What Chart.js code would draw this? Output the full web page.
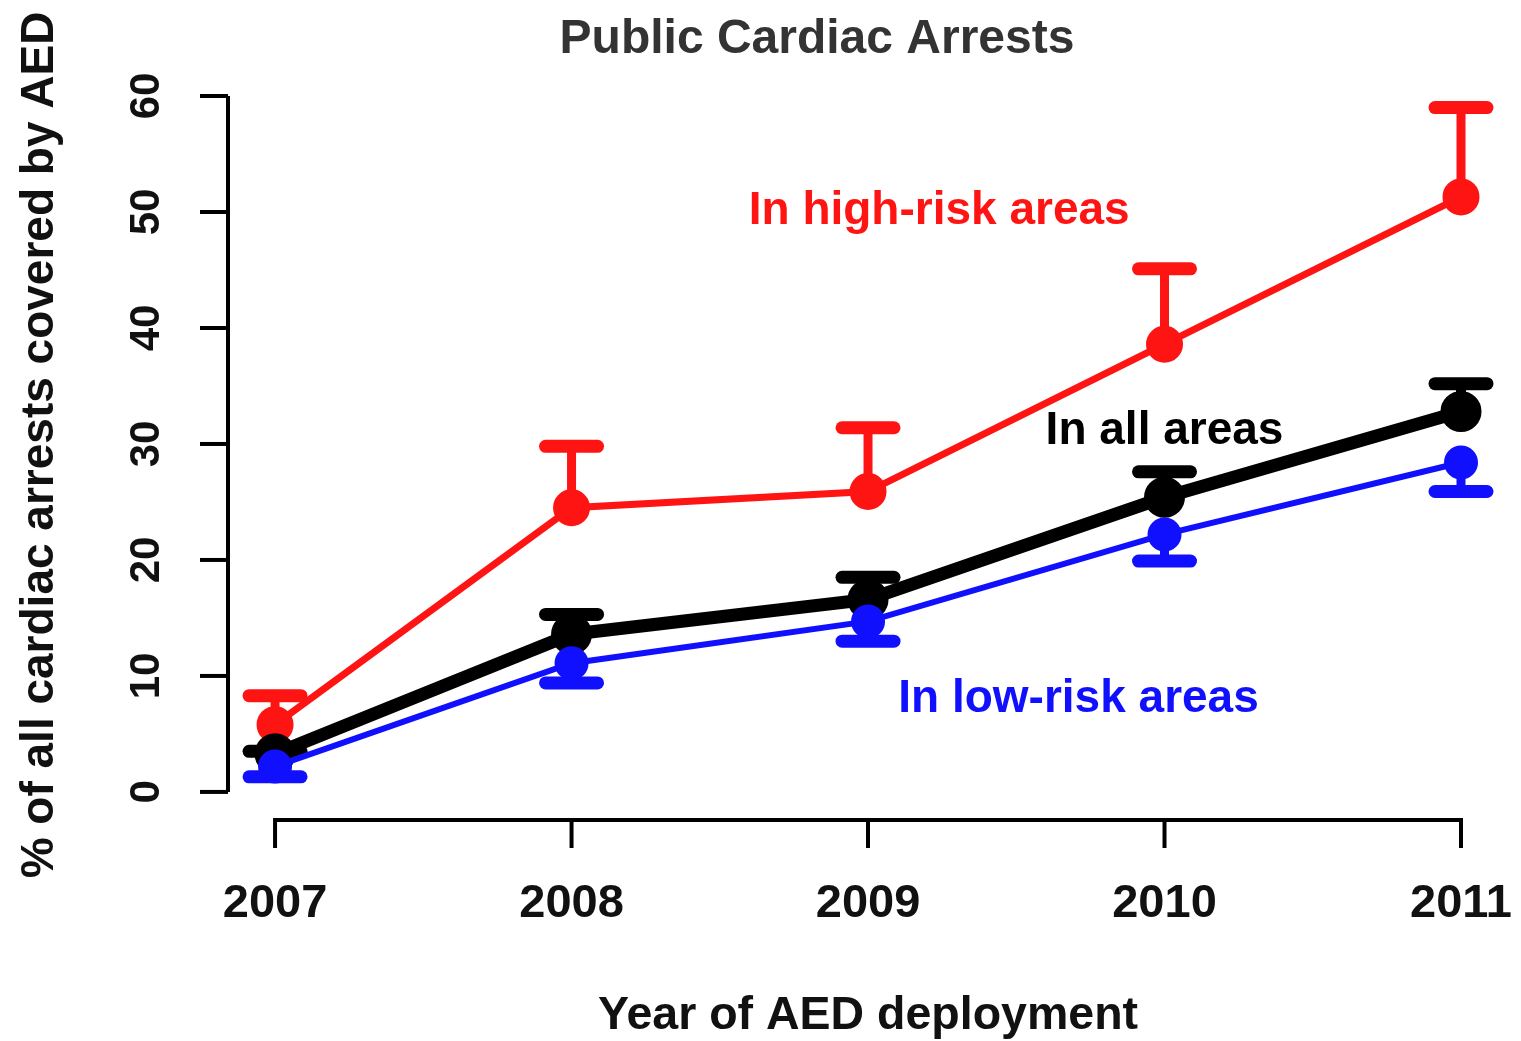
<!DOCTYPE html>
<html>
<head>
<meta charset="utf-8">
<script src="https://cdn.jsdelivr.net/npm/chart.js@4/dist/chart.umd.min.js"></script>
<style>
  body { margin: 0; background: #fff; }
  #wrap { width: 1521px; height: 1041px; }
</style>
</head>
<body>
<div id="wrap"><canvas id="aedChart" width="1521" height="1041"></canvas></div>
<script>
const years = [2007, 2008, 2009, 2010, 2011];
const yTicks = [0, 10, 20, 30, 40, 50, 60];

// % of cardiac arrests covered
const highRisk = [5.8, 24.5, 25.9, 38.6, 51.3];
const highRiskUpper = [8.3, 29.8, 31.4, 45.1, 59.0];
const allAreas = [3.3, 13.6, 16.6, 25.4, 32.8];
const allAreasUpper = [3.5, 15.3, 18.5, 27.6, 35.2];
const lowRisk = [2.2, 11.1, 14.7, 22.2, 28.4];
const lowRiskLower = [1.3, 9.4, 13.0, 19.9, 25.9];

const FONT = "'Liberation Sans', Arial, sans-serif";
const RED = '#ff1414', BLACK = '#000000', BLUE = '#1010ff';

// label anchors in data units (year, %)
const seriesLabels = [
    { text: 'In high-risk areas', x: 2009.24, y: 50.1, color: RED },
    { text: 'In all areas', x: 2010.0, y: 31.1, color: BLACK },
    { text: 'In low-risk areas', x: 2009.71, y: 8.0, color: BLUE },
];

const errBars = [
    { ends: highRiskUpper, vWidth: 9 },
    { ends: allAreasUpper, vWidth: 10 },
    { ends: lowRiskLower, vWidth: 9 },
];

const errorBarPlugin = {
    id: 'errorBars',
    afterDatasetDraw(chart, args) {
        const eb = errBars[args.index];
        if (!eb) return;
        const ds = chart.data.datasets[args.index];
        const { x, y } = chart.scales;
        const ctx = chart.ctx;
        ctx.save();
        ctx.strokeStyle = ds.borderColor;
        ctx.lineCap = 'round';
        ds.data.forEach((pt, i) => {
            const px = x.getPixelForValue(pt.x);
            const py = y.getPixelForValue(pt.y);
            const pe = y.getPixelForValue(eb.ends[i]);
            ctx.lineWidth = eb.vWidth;
            ctx.beginPath();
            ctx.moveTo(px, py);
            ctx.lineTo(px, pe);
            ctx.stroke();
            ctx.lineWidth = 13;
            ctx.beginPath();
            ctx.moveTo(px - 26, pe);
            ctx.lineTo(px + 26, pe);
            ctx.stroke();
        });
        ctx.restore();
    }
};

const axesPlugin = {
    id: 'rAxes',
    afterDraw(chart) {
        const { x, y } = chart.scales;
        const ctx = chart.ctx;
        const area = chart.chartArea;
        ctx.save();
        ctx.strokeStyle = '#000';
        ctx.fillStyle = '#111';
        ctx.lineWidth = 4;
        ctx.lineCap = 'butt';

        // y axis
        const ax = area.left;
        ctx.beginPath();
        ctx.moveTo(ax, y.getPixelForValue(yTicks[0]));
        ctx.lineTo(ax, y.getPixelForValue(yTicks[yTicks.length - 1]));
        ctx.stroke();
        ctx.font = 'bold 42px ' + FONT;
        ctx.textAlign = 'center';
        ctx.textBaseline = 'middle';
        yTicks.forEach(t => {
            const py = y.getPixelForValue(t);
            ctx.beginPath();
            ctx.moveTo(ax - 28, py);
            ctx.lineTo(ax, py);
            ctx.stroke();
            ctx.save();
            ctx.translate(147, py);
            ctx.rotate(-Math.PI / 2);
            ctx.fillText(String(t), 0, 0);
            ctx.restore();
        });

        // x axis
        const ay = area.bottom;
        ctx.beginPath();
        ctx.moveTo(x.getPixelForValue(years[0]), ay);
        ctx.lineTo(x.getPixelForValue(years[years.length - 1]), ay);
        ctx.stroke();
        ctx.font = 'bold 47px ' + FONT;
        years.forEach(yr => {
            const px = x.getPixelForValue(yr);
            ctx.beginPath();
            ctx.moveTo(px, ay - 2);
            ctx.lineTo(px, ay + 28);
            ctx.stroke();
            ctx.fillText(String(yr), px, 904);
        });

        // titles
        ctx.fillStyle = '#333';
        ctx.font = 'bold 48px ' + FONT;
        ctx.fillText('Public Cardiac Arrests', 817, 40);
        ctx.fillStyle = '#111';
        ctx.font = 'bold 46.5px ' + FONT;
        ctx.fillText('Year of AED deployment', 868, 1016);
        ctx.font = 'bold 46px ' + FONT;
        ctx.save();
        ctx.translate(40, 445);
        ctx.rotate(-Math.PI / 2);
        ctx.fillText('% of all cardiac arrests covered by AED', 0, 0);
        ctx.restore();

        // series labels
        ctx.font = 'bold 46px ' + FONT;
        seriesLabels.forEach(l => {
            ctx.fillStyle = l.color;
            ctx.fillText(l.text, x.getPixelForValue(l.x), y.getPixelForValue(l.y));
        });
        ctx.restore();
    }
};

const toPoints = vals => vals.map((v, i) => ({ x: years[i], y: v }));

new Chart(document.getElementById('aedChart'), {
    type: 'line',
    data: {
        datasets: [
            {
                label: 'In high-risk areas',
                data: toPoints(highRisk),
                borderColor: RED, backgroundColor: RED,
                borderWidth: 7, pointRadius: 15, pointHoverRadius: 15,
                order: 2,
            },
            {
                label: 'In all areas',
                data: toPoints(allAreas),
                borderColor: BLACK, backgroundColor: BLACK,
                borderWidth: 13, pointRadius: 14, pointHoverRadius: 14,
                order: 1,
            },
            {
                label: 'In low-risk areas',
                data: toPoints(lowRisk),
                borderColor: BLUE, backgroundColor: BLUE,
                borderWidth: 6, pointRadius: 14, pointHoverRadius: 14,
                order: 0,
            },
        ]
    },
    options: {
        responsive: false,
        animation: false,
        layout: { padding: { left: 228, right: 21, top: 96, bottom: 221 } },
        scales: {
            x: { type: 'linear', min: 2006.8413, max: 2011.1113, display: false },
            y: { type: 'linear', min: -2.42, max: 60, display: false },
        },
        plugins: {
            legend: { display: false },
            tooltip: { enabled: false },
        }
    },
    plugins: [errorBarPlugin, axesPlugin]
});
</script>
</body>
</html>
